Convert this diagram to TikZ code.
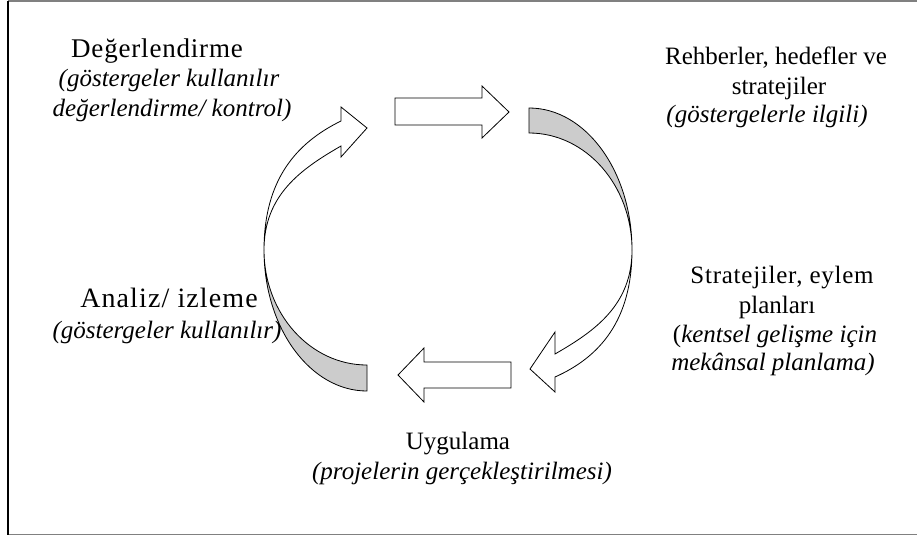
\documentclass[tikz,border=0pt]{standalone}
\usepackage{fontspec}
\setmainfont{Liberation Serif}
\definecolor{bandgray}{RGB}{204,204,204}
\definecolor{framegray}{RGB}{128,128,128}
\begin{document}
\begin{tikzpicture}[x=1pt,y=-1pt,
  lbl/.style={anchor=base,inner sep=0pt,font=\fontsize{25}{30}\selectfont},
  itl/.style={lbl,font=\fontsize{25}{30}\selectfont\itshape},
  wide/.style 2 args={lbl,font=\fontsize{#1}{30}\selectfont\addfontfeature{LetterSpace=#2}},
  shapeline/.style={draw=black,line width=0.8pt,line join=miter},
  band/.style={shapeline,fill=bandgray},
  hollow/.style={shapeline,fill=white}]
\useasboundingbox (0,0) rectangle (917,538);

% outer frame
\draw[framegray,line width=1.6pt] (8,1) -- (917,1);
\draw[framegray,line width=1.6pt] (8,534.5) -- (917,534.5);
\draw[black,line width=1.4pt] (8,1) -- (8,535);

% straight block arrows
\draw[hollow] (395,98) -- (482,98) -- (482,86) -- (509,112) -- (482,138) -- (482,125) -- (395,125) -- cycle;
\draw[hollow] (511,362) -- (424,362) -- (424,348) -- (398,375) -- (424,402) -- (424,388) -- (511,388) -- cycle;

% right curved arrow: grey back face and white front with head
\draw[band] (529,108) .. controls (585.9,108) and (632,171.6) .. (632,250)
  .. controls (632,185.4) and (585.9,133) .. (529,133) -- cycle;
\draw[hollow] (632,250) .. controls (632,320) and (600,357) .. (555,377)
  -- (555,392) -- (530,369) -- (555,332) -- (555,354)
  .. controls (595,331) and (632,305) .. (632,250) -- cycle;

% left curved arrow: grey back face and white front with head
\draw[band] (264,250) .. controls (264,327.9) and (310.1,391) .. (367,391)
  -- (367,365) .. controls (310.1,365) and (264,313.5) .. (264,250) -- cycle;
\draw[hollow] (264,250) .. controls (264,180) and (296,143) .. (341,121)
  -- (341,107) -- (367,128) -- (341,157) -- (341,146)
  .. controls (301,169) and (264,195) .. (264,250) -- cycle;

% labels
\node[wide={27}{3}] (deg1) at (157,57) {Değerlendirme};
\node[itl] (deg2) at (169,86) {(göstergeler kullanılır};
\node[itl] (deg3) at (172,116) {değerlendirme/ kontrol)};

\node[lbl] (reh1) at (776,64) {Rehberler, hedefler ve};
\node[lbl] (reh2) at (779,94) {stratejiler};
\begin{scope}
  \clip (600,100) rectangle (917,128);
  \node[itl] (reh3) at (767,122) {(göstergelerle ilgili)};
\end{scope}

\node[wide={25}{3}] (str1) at (782,283) {Stratejiler, eylem};
\node[lbl] (str2) at (777,313) {planları};
\node[lbl] (str3) at (775,342) {(\textit{kentsel gelişme için}};
\begin{scope}
  \clip (600,345) rectangle (917,378);
  \node[itl] (str4) at (773,370) {mekânsal planlama)};
\end{scope}

\node[wide={28}{4}] (ana1) at (169,307) {Analiz/ izleme};
\node[itl] (ana2) at (167,338) {(göstergeler kullanılır)};

\node[lbl] (uyg1) at (458,449) {Uygulama};
\node[itl] (uyg2) at (462,479) {(projelerin gerçekleştirilmesi)};
\end{tikzpicture}
\end{document}
